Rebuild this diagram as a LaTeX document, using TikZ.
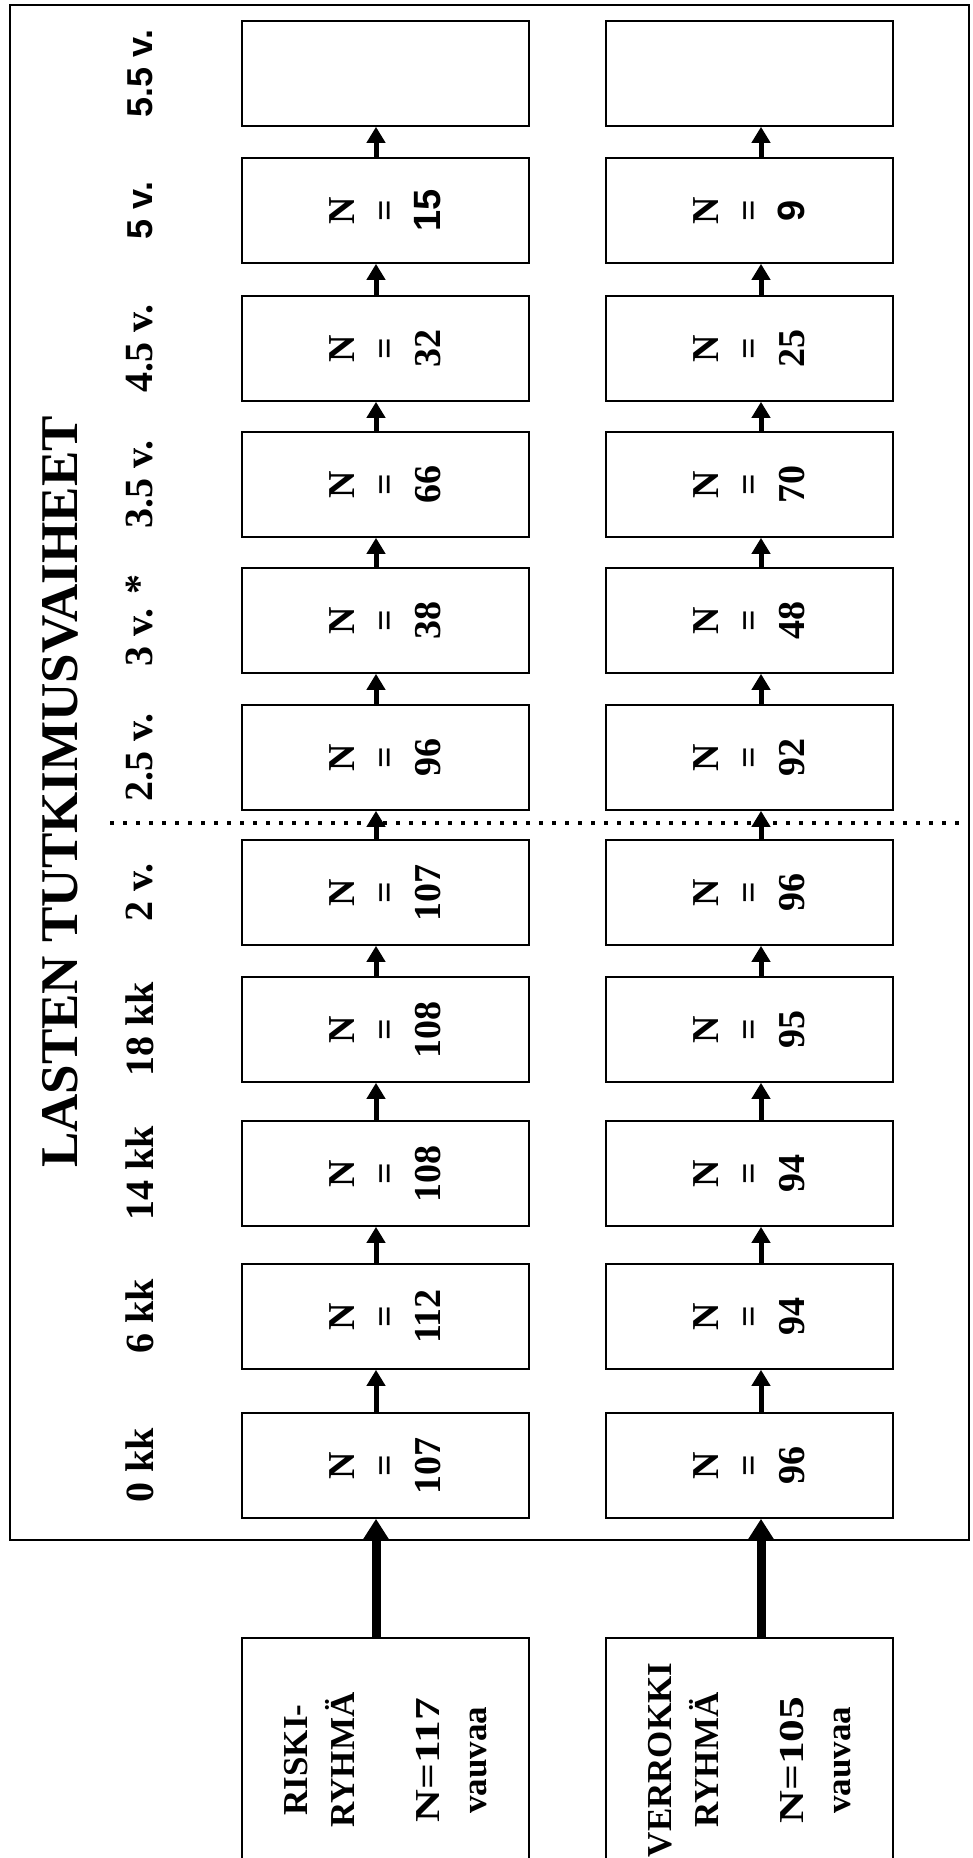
\documentclass[tikz,border=0pt]{standalone}
\usepackage{graphicx}
\usepackage{fontspec}
\setmainfont{Liberation Serif}
\newfontfamily\arialfont{Liberation Sans}
\usetikzlibrary{arrows.meta}

\tikzset{
  stage/.style={draw, line width=1.6pt, rotate=90, minimum width=105pt,
    minimum height=287pt, inner sep=0pt, align=center,
    font=\fontsize{38}{43}\selectfont\bfseries},
  group/.style={draw, line width=1.6pt, rotate=90, minimum width=244pt,
    minimum height=287pt, inner sep=0pt, align=center,
    font=\fontsize{35}{47}\selectfont\bfseries},
  age/.style={rotate=90, font=\fontsize{40}{48}\selectfont\bfseries},
  uparrow/.style={line width=5pt, -{Triangle[width=18pt,length=16pt]}},
  bigup/.style={line width=9pt, -{Triangle[width=25pt,length=21pt]}},
}
\newcommand{\wide}[1]{\scalebox{1.3}[1]{#1}}

\begin{document}
\begin{tikzpicture}[x=1pt,y=-1pt]
  \clip (0,0) rectangle (973,1858);
  \draw[line width=1.6pt] (10,5) rectangle (969,1540);
  \node[rotate=90,font=\fontsize{53}{60}\selectfont\bfseries] (title) at (60,792) {LASTEN TUTKIMUSVAIHEET};
  % ages
  \node[age] (a0) at (140,1465.5) {0 kk};
  \node[age] (a1) at (140,1316.5) {6 kk};
  \node[age] (a2) at (140,1173.5) {14 kk};
  \node[age] (a3) at (140,1029.5) {18 kk};
  \node[age] (a4) at (140,892.5) {2 v.};
  \node[age] (a5) at (140,757.5) {2.5 v.};
  \node[age] (a6) at (140,620.5) {3 v. *};
  \node[age] (a7) at (140,484.5) {3.5 v.};
  \node[age] (a8) at (140,348.5) {4.5 v.};
  \node[age,font=\fontsize{36}{44}\selectfont\bfseries\arialfont] (a9) at (140,210.5) {5 v.};
  \node[age,font=\fontsize{36}{44}\selectfont\bfseries\arialfont] (a10) at (140,73.5) {5.5 v.};
  % riskiryhma
  \node[stage] (L0) at (385.5,1465.5) {N\\=\\107};
  \node[stage] (L1) at (385.5,1316.5) {N\\=\\112};
  \node[stage] (L2) at (385.5,1173.5) {N\\=\\108};
  \node[stage] (L3) at (385.5,1029.5) {N\\=\\108};
  \node[stage] (L4) at (385.5,892.5) {N\\=\\107};
  \node[stage] (L5) at (385.5,757.5) {N\\=\\96};
  \node[stage] (L6) at (385.5,620.5) {N\\=\\38};
  \node[stage] (L7) at (385.5,484.5) {N\\=\\66};
  \node[stage] (L8) at (385.5,348.5) {N\\=\\32};
  \node[stage] (L9) at (385.5,210.5) {N\\=\\{\arialfont 15}};
  \node[stage] (L10) at (385.5,73.5) {};
  % verrokkiryhma
  \node[stage] (R0) at (749.5,1465.5) {N\\=\\96};
  \node[stage] (R1) at (749.5,1316.5) {N\\=\\94};
  \node[stage] (R2) at (749.5,1173.5) {N\\=\\94};
  \node[stage] (R3) at (749.5,1029.5) {N\\=\\95};
  \node[stage] (R4) at (749.5,892.5) {N\\=\\96};
  \node[stage] (R5) at (749.5,757.5) {N\\=\\92};
  \node[stage] (R6) at (749.5,620.5) {N\\=\\48};
  \node[stage] (R7) at (749.5,484.5) {N\\=\\70};
  \node[stage] (R8) at (749.5,348.5) {N\\=\\25};
  \node[stage] (R9) at (749.5,210.5) {N\\=\\{\arialfont 9}};
  \node[stage] (R10) at (749.5,73.5) {};
  % groups
  \node[group] (riski) at (385.5,1760) {RISKI-\\RYHMÄ\\[38pt]\wide{N=117}\\vauvaa};
  \node[group] (verrokki) at (749.5,1760) {VERROKKI\\RYHMÄ\\[38pt]\wide{N=105}\\vauvaa};
  \coordinate (la) at (376,0);
  \coordinate (ra) at (761,0);
  \draw[line width=4pt, dash pattern=on 4pt off 9pt] (110,823) -- (965,823);
  \draw[uparrow] (L0.east -| la) -- (L1.west -| la);
  \draw[uparrow] (L1.east -| la) -- (L2.west -| la);
  \draw[uparrow] (L2.east -| la) -- (L3.west -| la);
  \draw[uparrow] (L3.east -| la) -- (L4.west -| la);
  \draw[uparrow] (L4.east -| la) -- (L5.west -| la);
  \draw[uparrow] (L5.east -| la) -- (L6.west -| la);
  \draw[uparrow] (L6.east -| la) -- (L7.west -| la);
  \draw[uparrow] (L7.east -| la) -- (L8.west -| la);
  \draw[uparrow] (L8.east -| la) -- (L9.west -| la);
  \draw[uparrow] (L9.east -| la) -- (L10.west -| la);
  \draw[uparrow] (R0.east -| ra) -- (R1.west -| ra);
  \draw[uparrow] (R1.east -| ra) -- (R2.west -| ra);
  \draw[uparrow] (R2.east -| ra) -- (R3.west -| ra);
  \draw[uparrow] (R3.east -| ra) -- (R4.west -| ra);
  \draw[uparrow] (R4.east -| ra) -- (R5.west -| ra);
  \draw[uparrow] (R5.east -| ra) -- (R6.west -| ra);
  \draw[uparrow] (R6.east -| ra) -- (R7.west -| ra);
  \draw[uparrow] (R7.east -| ra) -- (R8.west -| ra);
  \draw[uparrow] (R8.east -| ra) -- (R9.west -| ra);
  \draw[uparrow] (R9.east -| ra) -- (R10.west -| ra);
  \draw[bigup] (riski.east -| la) -- (L0.west -| la);
  \draw[bigup] (verrokki.east -| ra) -- (R0.west -| ra);
\end{tikzpicture}
\end{document}
